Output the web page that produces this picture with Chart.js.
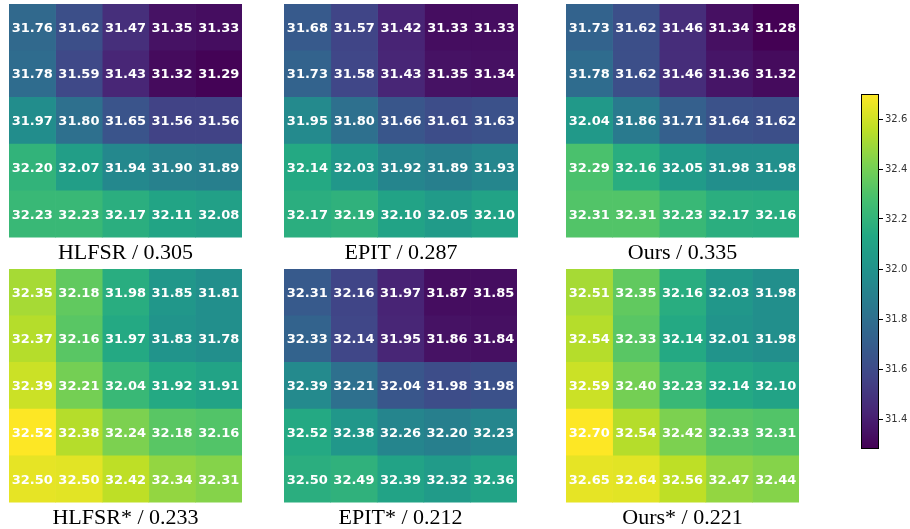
<!DOCTYPE html>
<html>
<head>
<meta charset="utf-8">
<script src="https://cdn.jsdelivr.net/npm/chart.js@4/dist/chart.umd.min.js"></script>
<style>
  body { margin: 0; background: #fff; width: 910px; height: 529px; position: relative; overflow: hidden; }
  .box { position: absolute; }
</style>
</head>
<body>
<div class="box" style="left:9px;top:4px"><canvas id="p1" width="233" height="264"></canvas></div>
<div class="box" style="left:284px;top:4px"><canvas id="p2" width="234" height="264"></canvas></div>
<div class="box" style="left:566px;top:4px"><canvas id="p3" width="233" height="264"></canvas></div>
<div class="box" style="left:9px;top:269px"><canvas id="p4" width="233" height="264"></canvas></div>
<div class="box" style="left:284px;top:269px"><canvas id="p5" width="233" height="264"></canvas></div>
<div class="box" style="left:566px;top:269px"><canvas id="p6" width="233" height="264"></canvas></div>
<div class="box" style="left:861px;top:86px"><canvas id="cbar" width="49" height="371"></canvas></div>
<script>
// colour range shared by every panel and the colour bar
var vmin = 31.28;
var vmax = 32.70;
var cbTicks = [31.4, 31.6, 31.8, 32.0, 32.2, 32.4, 32.6];
var rowLabels = ['r1', 'r2', 'r3', 'r4', 'r5'];

var hlfsr = [
  [31.76, 31.62, 31.47, 31.35, 31.33],
  [31.78, 31.59, 31.43, 31.32, 31.29],
  [31.97, 31.80, 31.65, 31.56, 31.56],
  [32.20, 32.07, 31.94, 31.90, 31.89],
  [32.23, 32.23, 32.17, 32.11, 32.08]
];
var epit = [
  [31.68, 31.57, 31.42, 31.33, 31.33],
  [31.73, 31.58, 31.43, 31.35, 31.34],
  [31.95, 31.80, 31.66, 31.61, 31.63],
  [32.14, 32.03, 31.92, 31.89, 31.93],
  [32.17, 32.19, 32.10, 32.05, 32.10]
];
var ours = [
  [31.73, 31.62, 31.46, 31.34, 31.28],
  [31.78, 31.62, 31.46, 31.36, 31.32],
  [32.04, 31.86, 31.71, 31.64, 31.62],
  [32.29, 32.16, 32.05, 31.98, 31.98],
  [32.31, 32.31, 32.23, 32.17, 32.16]
];
var hlfsrStar = [
  [32.35, 32.18, 31.98, 31.85, 31.81],
  [32.37, 32.16, 31.97, 31.83, 31.78],
  [32.39, 32.21, 32.04, 31.92, 31.91],
  [32.52, 32.38, 32.24, 32.18, 32.16],
  [32.50, 32.50, 32.42, 32.34, 32.31]
];
var epitStar = [
  [32.31, 32.16, 31.97, 31.87, 31.85],
  [32.33, 32.14, 31.95, 31.86, 31.84],
  [32.39, 32.21, 32.04, 31.98, 31.98],
  [32.52, 32.38, 32.26, 32.20, 32.23],
  [32.50, 32.49, 32.39, 32.32, 32.36]
];
var oursStar = [
  [32.51, 32.35, 32.16, 32.03, 31.98],
  [32.54, 32.33, 32.14, 32.01, 31.98],
  [32.59, 32.40, 32.23, 32.14, 32.10],
  [32.70, 32.54, 32.42, 32.33, 32.31],
  [32.65, 32.64, 32.56, 32.47, 32.44]
];

// viridis stops
var viridisStops = ['#440154', '#482475', '#414487', '#355f8d', '#2a788e', '#21918c',
                    '#22a884', '#44bf70', '#7ad151', '#bddf26', '#fde725'];

function hexRgb(h) {
  return [parseInt(h.substr(1, 2), 16), parseInt(h.substr(3, 2), 16), parseInt(h.substr(5, 2), 16)];
}

function viridis(v) {
  var t = (v - vmin) / (vmax - vmin);
  t = Math.max(0, Math.min(1, t));
  var pos = t * (viridisStops.length - 1);
  var i = Math.min(Math.floor(pos), viridisStops.length - 2);
  var f = pos - i;
  var a = hexRgb(viridisStops[i]), b = hexRgb(viridisStops[i + 1]);
  var c = a.map(function (x, k) { return Math.round(x + (b[k] - x) * f); });
  return 'rgb(' + c.join(',') + ')';
}

// writes each cell's value in its centre
var cellLabels = {
  id: 'cellLabels',
  afterDatasetsDraw: function (chart) {
    var ctx = chart.ctx;
    ctx.save();
    ctx.fillStyle = '#fff';
    ctx.font = 'bold 13px "DejaVu Sans"';
    ctx.textAlign = 'center';
    ctx.textBaseline = 'middle';
    chart.data.datasets.forEach(function (ds, i) {
      chart.getDatasetMeta(i).data.forEach(function (el, j) {
        ctx.fillText(ds.cellText[j], (el.x + el.base) / 2, el.y + 1);
      });
    });
    ctx.restore();
  }
};

function generate_heatmap(canvas_id, title, values, colours) {
  var datasets = [];
  for (var c = 0; c < 5; c++) {
    datasets.push({
      data: values.map(function () { return 1; }),
      backgroundColor: colours.map(function (row) { return viridis(row[c]); }),
      borderWidth: 0,
      barPercentage: 1,
      categoryPercentage: 1,
      cellText: values.map(function (row) { return row[c].toFixed(2); })
    });
  }
  new Chart(document.getElementById(canvas_id).getContext('2d'), {
    type: 'bar',
    data: { labels: rowLabels, datasets: datasets },
    options: {
      indexAxis: 'y',
      responsive: false,
      animation: false,
      events: [],
      scales: {
        x: { stacked: true, min: 0, max: 5, display: false },
        y: { stacked: true, display: false }
      },
      plugins: {
        legend: { display: false },
        tooltip: { enabled: false },
        title: {
          display: true,
          text: title,
          position: 'bottom',
          color: '#000',
          font: { family: '"Liberation Serif"', size: 22, weight: 'normal' },
          padding: { top: 2, bottom: 2 }
        }
      }
    },
    plugins: [cellLabels]
  });
}

generate_heatmap('p1', 'HLFSR / 0.305', hlfsr, hlfsr);
generate_heatmap('p2', 'EPIT / 0.287', epit, epit);
generate_heatmap('p3', 'Ours / 0.335', ours, ours);
// in the reference, the starred HLFSR / EPIT panels reuse the colour images of Ours* / EPIT
generate_heatmap('p4', 'HLFSR* / 0.233', hlfsrStar, oursStar);
generate_heatmap('p5', 'EPIT* / 0.212', epitStar, epit);
generate_heatmap('p6', 'Ours* / 0.221', oursStar, oursStar);

// colour bar
new Chart(document.getElementById('cbar').getContext('2d'), {
  type: 'bar',
  data: {
    labels: [''],
    datasets: [{
      data: [[vmin, vmax]],
      barPercentage: 1,
      categoryPercentage: 1,
      borderWidth: 1,
      borderColor: '#000',
      borderSkipped: false,
      inflateAmount: 0,
      backgroundColor: function (ctx) {
        var chart = ctx.chart;
        if (!chart.chartArea) return null;
        var y = chart.scales.y;
        var g = chart.ctx.createLinearGradient(0, y.getPixelForValue(vmin), 0, y.getPixelForValue(vmax));
        for (var k = 0; k <= 40; k++) {
          g.addColorStop(k / 40, viridis(vmin + (vmax - vmin) * k / 40));
        }
        return g;
      }
    }]
  },
  options: {
    responsive: false,
    animation: false,
    events: [],
    layout: { padding: 0 },
    scales: {
      x: { display: false },
      y: {
        position: 'right',
        min: vmin,
        max: vmax,
        afterBuildTicks: function (scale) {
          scale.ticks = cbTicks.map(function (v) { return { value: v }; });
        },
        afterFit: function (scale) { scale.width = 31; },
        border: { display: false },
        grid: { drawOnChartArea: false, drawTicks: true, tickLength: 4, color: '#000' },
        ticks: {
          padding: 2,
          color: '#333',
          font: { family: '"DejaVu Sans"', size: 10 },
          callback: function (v) { return v.toFixed(1); }
        }
      }
    },
    plugins: { legend: { display: false }, tooltip: { enabled: false } }
  }
});
</script>
</body>
</html>
